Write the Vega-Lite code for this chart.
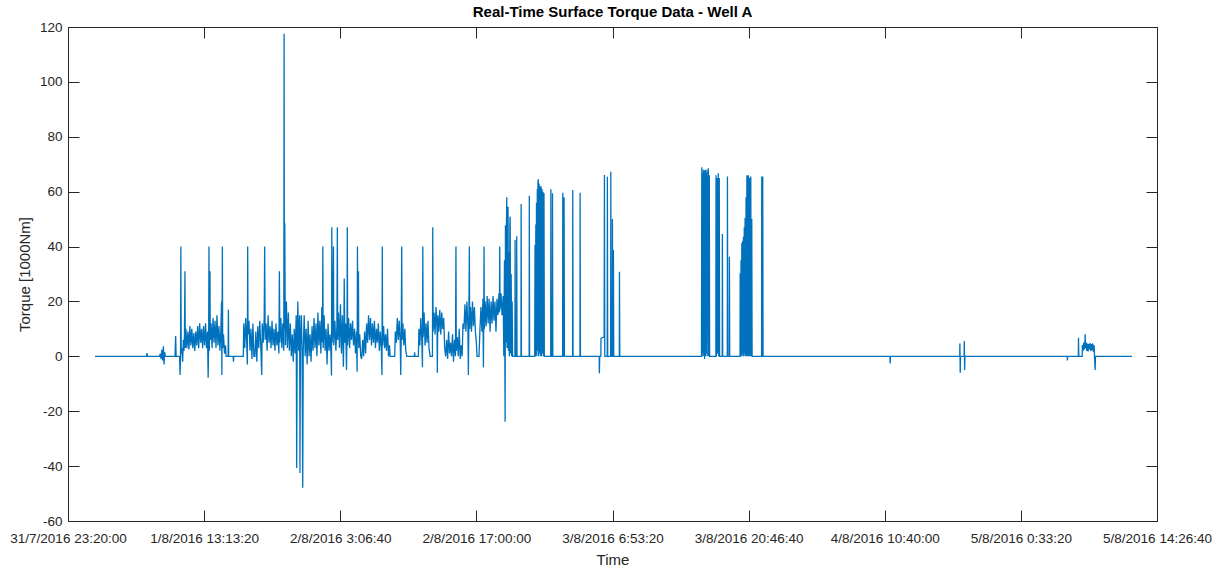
{
  "$schema": "https://vega.github.io/schema/vega-lite/v6.json",
  "width": 1089,
  "height": 494,
  "autosize": "none",
  "padding": {"left": 68, "top": 27, "right": 68, "bottom": 49},
  "background": "white",
  "config": {
    "font": "Liberation Sans",
    "view": {"stroke": "#262626", "strokeWidth": 1},
    "axis": {"grid": false, "domain": false, "tickColor": "#262626", "tickWidth": 1, "labelColor": "#262626", "labelFontSize": 13.5, "titleColor": "#262626", "titleFontSize": 15, "titleFontWeight": "normal"}
  },
  "title": {"text": "Real-Time Surface Torque Data - Well A", "fontSize": 15, "fontWeight": "bold", "color": "#000000", "anchor": "middle", "offset": 0},
  "data": {"values": [
    {"t":"2016-08-01T02:05Z","v":0},{"t":"2016-08-01T07:20Z","v":0},{"t":"2016-08-01T07:24Z","v":1.2},{"t":"2016-08-01T07:27Z","v":0},
    {"t":"2016-08-01T08:40Z","v":0},{"t":"2016-08-01T08:45Z","v":1},{"t":"2016-08-01T08:50Z","v":-1},{"t":"2016-08-01T08:55Z","v":2.5},
    {"t":"2016-08-01T09:00Z","v":-1.5},{"t":"2016-08-01T09:04Z","v":3.7},{"t":"2016-08-01T09:08Z","v":-3},{"t":"2016-08-01T09:12Z","v":1.5},
    {"t":"2016-08-01T09:16Z","v":0},{"t":"2016-08-01T10:15Z","v":0},{"t":"2016-08-01T10:19Z","v":7.4},{"t":"2016-08-01T10:22Z","v":0},
    {"t":"2016-08-01T10:43Z","v":0},{"t":"2016-08-01T10:46Z","v":-6.8},{"t":"2016-08-01T10:49Z","v":0},{"t":"2016-08-01T10:51Z","v":40},
    {"t":"2016-08-01T10:53Z","v":1},{"t":"2016-08-01T10:58Z","v":3},{"t":"2016-08-01T11:02Z","v":-2},{"t":"2016-08-01T11:06Z","v":6},
    {"t":"2016-08-01T11:10Z","v":2},{"t":"2016-08-01T11:13Z","v":8},{"t":"2016-08-01T11:16Z","v":31},{"t":"2016-08-01T11:18Z","v":3},
    {"t":"2016-08-01T11:22Z","v":10},{"t":"2016-08-01T11:28Z","v":3},{"t":"2016-08-01T11:34Z","v":9},{"t":"2016-08-01T11:40Z","v":2.5},
    {"t":"2016-08-01T11:46Z","v":11},{"t":"2016-08-01T11:52Z","v":4},{"t":"2016-08-01T11:58Z","v":10},{"t":"2016-08-01T12:04Z","v":3},
    {"t":"2016-08-01T12:10Z","v":8.5},{"t":"2016-08-01T12:16Z","v":2},{"t":"2016-08-01T12:22Z","v":9},{"t":"2016-08-01T12:28Z","v":4},
    {"t":"2016-08-01T12:34Z","v":11},{"t":"2016-08-01T12:40Z","v":3},{"t":"2016-08-01T12:46Z","v":12},{"t":"2016-08-01T12:52Z","v":5},
    {"t":"2016-08-01T12:58Z","v":10},{"t":"2016-08-01T13:04Z","v":3},{"t":"2016-08-01T13:10Z","v":11},{"t":"2016-08-01T13:16Z","v":4},
    {"t":"2016-08-01T13:22Z","v":12},{"t":"2016-08-01T13:28Z","v":3},{"t":"2016-08-01T13:34Z","v":9},{"t":"2016-08-01T13:38Z","v":-7.8},
    {"t":"2016-08-01T13:41Z","v":5},{"t":"2016-08-01T13:43Z","v":40},{"t":"2016-08-01T13:45Z","v":2},{"t":"2016-08-01T13:49Z","v":31},
    {"t":"2016-08-01T13:51Z","v":6},{"t":"2016-08-01T13:56Z","v":12},{"t":"2016-08-01T14:02Z","v":3},{"t":"2016-08-01T14:08Z","v":14},
    {"t":"2016-08-01T14:14Z","v":5},{"t":"2016-08-01T14:20Z","v":13},{"t":"2016-08-01T14:26Z","v":3},{"t":"2016-08-01T14:32Z","v":15},
    {"t":"2016-08-01T14:38Z","v":4},{"t":"2016-08-01T14:44Z","v":11},{"t":"2016-08-01T14:50Z","v":2},{"t":"2016-08-01T14:56Z","v":10},
    {"t":"2016-08-01T15:00Z","v":20},{"t":"2016-08-01T15:02Z","v":-6.8},{"t":"2016-08-01T15:05Z","v":40},{"t":"2016-08-01T15:07Z","v":3},
    {"t":"2016-08-01T15:12Z","v":8},{"t":"2016-08-01T15:18Z","v":1},{"t":"2016-08-01T15:24Z","v":4},{"t":"2016-08-01T15:28Z","v":0},
    {"t":"2016-08-01T15:40Z","v":0},{"t":"2016-08-01T15:42Z","v":17},{"t":"2016-08-01T15:44Z","v":0},{"t":"2016-08-01T16:11Z","v":0},
    {"t":"2016-08-01T16:13Z","v":-2},{"t":"2016-08-01T16:15Z","v":0},{"t":"2016-08-01T17:13Z","v":0},{"t":"2016-08-01T17:16Z","v":12},
    {"t":"2016-08-01T17:22Z","v":3},{"t":"2016-08-01T17:28Z","v":14},{"t":"2016-08-01T17:34Z","v":5},{"t":"2016-08-01T17:38Z","v":-3},
    {"t":"2016-08-01T17:40Z","v":40},{"t":"2016-08-01T17:42Z","v":8},{"t":"2016-08-01T17:48Z","v":13},{"t":"2016-08-01T17:54Z","v":2},
    {"t":"2016-08-01T18:00Z","v":10},{"t":"2016-08-01T18:06Z","v":-1},{"t":"2016-08-01T18:12Z","v":12},{"t":"2016-08-01T18:18Z","v":0},
    {"t":"2016-08-01T18:24Z","v":0},{"t":"2016-08-01T18:30Z","v":9},{"t":"2016-08-01T18:36Z","v":-2},{"t":"2016-08-01T18:42Z","v":11},
    {"t":"2016-08-01T18:48Z","v":3},{"t":"2016-08-01T18:54Z","v":13},{"t":"2016-08-01T19:00Z","v":4},{"t":"2016-08-01T19:06Z","v":-6.8},
    {"t":"2016-08-01T19:09Z","v":12},{"t":"2016-08-01T19:15Z","v":5},{"t":"2016-08-01T19:21Z","v":14},{"t":"2016-08-01T19:24Z","v":40},
    {"t":"2016-08-01T19:27Z","v":6},{"t":"2016-08-01T19:33Z","v":12},{"t":"2016-08-01T19:39Z","v":2},{"t":"2016-08-01T19:45Z","v":15},
    {"t":"2016-08-01T19:51Z","v":5},{"t":"2016-08-01T19:57Z","v":11},{"t":"2016-08-01T20:03Z","v":3},{"t":"2016-08-01T20:09Z","v":13},
    {"t":"2016-08-01T20:15Z","v":4},{"t":"2016-08-01T20:21Z","v":10},{"t":"2016-08-01T20:27Z","v":2},{"t":"2016-08-01T20:33Z","v":12},
    {"t":"2016-08-01T20:39Z","v":4},{"t":"2016-08-01T20:45Z","v":9},{"t":"2016-08-01T20:51Z","v":1},{"t":"2016-08-01T20:54Z","v":31},
    {"t":"2016-08-01T20:57Z","v":5},{"t":"2016-08-01T21:03Z","v":14},{"t":"2016-08-01T21:09Z","v":3},{"t":"2016-08-01T21:15Z","v":12},
    {"t":"2016-08-01T21:21Z","v":2},{"t":"2016-08-01T21:23Z","v":117.5},{"t":"2016-08-01T21:25Z","v":10},{"t":"2016-08-01T21:27Z","v":48.5},
    {"t":"2016-08-01T21:29Z","v":23.5},{"t":"2016-08-01T21:31Z","v":4},{"t":"2016-08-01T21:37Z","v":20},{"t":"2016-08-01T21:43Z","v":3},
    {"t":"2016-08-01T21:49Z","v":16},{"t":"2016-08-01T21:55Z","v":2},{"t":"2016-08-01T22:01Z","v":12},{"t":"2016-08-01T22:07Z","v":0},
    {"t":"2016-08-01T22:13Z","v":8},{"t":"2016-08-01T22:19Z","v":-2},{"t":"2016-08-01T22:25Z","v":10},{"t":"2016-08-01T22:31Z","v":1},
    {"t":"2016-08-01T22:37Z","v":15},{"t":"2016-08-01T22:40Z","v":-40.7},{"t":"2016-08-01T22:43Z","v":3},{"t":"2016-08-01T22:47Z","v":20},
    {"t":"2016-08-01T22:52Z","v":2},{"t":"2016-08-01T22:58Z","v":15},{"t":"2016-08-01T23:00Z","v":-42.5},{"t":"2016-08-01T23:03Z","v":4},
    {"t":"2016-08-01T23:09Z","v":15},{"t":"2016-08-01T23:13Z","v":0},{"t":"2016-08-01T23:17Z","v":-47.9},{"t":"2016-08-01T23:20Z","v":2},
    {"t":"2016-08-01T23:26Z","v":15},{"t":"2016-08-01T23:32Z","v":0},{"t":"2016-08-01T23:38Z","v":10},{"t":"2016-08-01T23:44Z","v":-3},
    {"t":"2016-08-01T23:50Z","v":13},{"t":"2016-08-01T23:56Z","v":0},
    {"t":"2016-08-02T00:02Z","v":8},{"t":"2016-08-02T00:08Z","v":-2},{"t":"2016-08-02T00:14Z","v":11},{"t":"2016-08-02T00:20Z","v":2},
    {"t":"2016-08-02T00:26Z","v":14},{"t":"2016-08-02T00:32Z","v":3},{"t":"2016-08-02T00:38Z","v":12},{"t":"2016-08-02T00:44Z","v":0},
    {"t":"2016-08-02T00:50Z","v":16},{"t":"2016-08-02T00:56Z","v":4},{"t":"2016-08-02T01:02Z","v":13},{"t":"2016-08-02T01:08Z","v":1},
    {"t":"2016-08-02T01:14Z","v":18},{"t":"2016-08-02T01:18Z","v":5},{"t":"2016-08-02T01:20Z","v":40},{"t":"2016-08-02T01:22Z","v":3},
    {"t":"2016-08-02T01:28Z","v":15},{"t":"2016-08-02T01:34Z","v":2},{"t":"2016-08-02T01:40Z","v":10},{"t":"2016-08-02T01:46Z","v":-3},
    {"t":"2016-08-02T01:52Z","v":12},{"t":"2016-08-02T01:58Z","v":2},{"t":"2016-08-02T02:04Z","v":8},{"t":"2016-08-02T02:10Z","v":1},
    {"t":"2016-08-02T02:13Z","v":-7},{"t":"2016-08-02T02:15Z","v":47},{"t":"2016-08-02T02:17Z","v":5},{"t":"2016-08-02T02:22Z","v":14},
    {"t":"2016-08-02T02:25Z","v":40},{"t":"2016-08-02T02:27Z","v":4},{"t":"2016-08-02T02:34Z","v":13},{"t":"2016-08-02T02:40Z","v":2},
    {"t":"2016-08-02T02:46Z","v":11},{"t":"2016-08-02T02:49Z","v":47},{"t":"2016-08-02T02:51Z","v":6},{"t":"2016-08-02T02:56Z","v":16},
    {"t":"2016-08-02T03:02Z","v":3},{"t":"2016-08-02T03:08Z","v":19},{"t":"2016-08-02T03:14Z","v":1},{"t":"2016-08-02T03:20Z","v":15},
    {"t":"2016-08-02T03:26Z","v":-3.8},{"t":"2016-08-02T03:29Z","v":10},{"t":"2016-08-02T03:31Z","v":28.4},{"t":"2016-08-02T03:35Z","v":5},
    {"t":"2016-08-02T03:40Z","v":12},{"t":"2016-08-02T03:45Z","v":-5},{"t":"2016-08-02T03:48Z","v":8},{"t":"2016-08-02T03:50Z","v":47},
    {"t":"2016-08-02T03:52Z","v":4},{"t":"2016-08-02T03:58Z","v":14},{"t":"2016-08-02T04:04Z","v":3},{"t":"2016-08-02T04:10Z","v":12},
    {"t":"2016-08-02T04:16Z","v":6},{"t":"2016-08-02T04:22Z","v":13},{"t":"2016-08-02T04:28Z","v":4},{"t":"2016-08-02T04:34Z","v":10},
    {"t":"2016-08-02T04:40Z","v":1},{"t":"2016-08-02T04:46Z","v":9},{"t":"2016-08-02T04:50Z","v":-5.6},{"t":"2016-08-02T04:52Z","v":40},
    {"t":"2016-08-02T04:54Z","v":5},{"t":"2016-08-02T04:58Z","v":31},{"t":"2016-08-02T05:00Z","v":3},{"t":"2016-08-02T05:06Z","v":8},
    {"t":"2016-08-02T05:12Z","v":0},{"t":"2016-08-02T05:18Z","v":-1},{"t":"2016-08-02T05:24Z","v":6},{"t":"2016-08-02T05:30Z","v":0},
    {"t":"2016-08-02T05:36Z","v":9},{"t":"2016-08-02T05:42Z","v":1},{"t":"2016-08-02T05:48Z","v":12},{"t":"2016-08-02T05:54Z","v":5},
    {"t":"2016-08-02T06:00Z","v":15},{"t":"2016-08-02T06:06Z","v":6},{"t":"2016-08-02T06:12Z","v":14},{"t":"2016-08-02T06:18Z","v":4},
    {"t":"2016-08-02T06:24Z","v":12},{"t":"2016-08-02T06:30Z","v":5},{"t":"2016-08-02T06:36Z","v":13},{"t":"2016-08-02T06:42Z","v":3},
    {"t":"2016-08-02T06:48Z","v":10},{"t":"2016-08-02T06:54Z","v":5},{"t":"2016-08-02T07:00Z","v":12},{"t":"2016-08-02T07:06Z","v":2},
    {"t":"2016-08-02T07:12Z","v":9},{"t":"2016-08-02T07:18Z","v":3},{"t":"2016-08-02T07:22Z","v":-6.8},{"t":"2016-08-02T07:24Z","v":40},
    {"t":"2016-08-02T07:26Z","v":4},{"t":"2016-08-02T07:32Z","v":11},{"t":"2016-08-02T07:38Z","v":3},{"t":"2016-08-02T07:44Z","v":8},
    {"t":"2016-08-02T07:50Z","v":2},{"t":"2016-08-02T07:56Z","v":10},{"t":"2016-08-02T08:02Z","v":0},{"t":"2016-08-02T08:08Z","v":4},
    {"t":"2016-08-02T08:12Z","v":0},{"t":"2016-08-02T08:40Z","v":0},{"t":"2016-08-02T08:44Z","v":9},{"t":"2016-08-02T08:50Z","v":5},
    {"t":"2016-08-02T08:56Z","v":14},{"t":"2016-08-02T09:02Z","v":6},{"t":"2016-08-02T09:08Z","v":13},{"t":"2016-08-02T09:14Z","v":5},
    {"t":"2016-08-02T09:17Z","v":-6.8},{"t":"2016-08-02T09:20Z","v":8},{"t":"2016-08-02T09:23Z","v":40},{"t":"2016-08-02T09:25Z","v":6},
    {"t":"2016-08-02T09:30Z","v":12},{"t":"2016-08-02T09:36Z","v":4},{"t":"2016-08-02T09:42Z","v":10},{"t":"2016-08-02T09:48Z","v":2},
    {"t":"2016-08-02T09:54Z","v":0},{"t":"2016-08-02T10:40Z","v":0},{"t":"2016-08-02T10:42Z","v":1.5},{"t":"2016-08-02T10:44Z","v":0},
    {"t":"2016-08-02T11:05Z","v":0},{"t":"2016-08-02T11:08Z","v":10},{"t":"2016-08-02T11:14Z","v":4},{"t":"2016-08-02T11:20Z","v":14},
    {"t":"2016-08-02T11:26Z","v":6},{"t":"2016-08-02T11:30Z","v":-4},{"t":"2016-08-02T11:32Z","v":40},{"t":"2016-08-02T11:34Z","v":7},
    {"t":"2016-08-02T11:40Z","v":16},{"t":"2016-08-02T11:46Z","v":4},{"t":"2016-08-02T11:52Z","v":12},{"t":"2016-08-02T11:58Z","v":5},
    {"t":"2016-08-02T12:04Z","v":13},{"t":"2016-08-02T12:10Z","v":3},{"t":"2016-08-02T12:17Z","v":0},{"t":"2016-08-02T12:31Z","v":0},
    {"t":"2016-08-02T12:33Z","v":47},{"t":"2016-08-02T12:35Z","v":9},{"t":"2016-08-02T12:41Z","v":16},{"t":"2016-08-02T12:47Z","v":8},
    {"t":"2016-08-02T12:53Z","v":18},{"t":"2016-08-02T12:59Z","v":10},{"t":"2016-08-02T13:01Z","v":-6},{"t":"2016-08-02T13:04Z","v":15},
    {"t":"2016-08-02T13:10Z","v":9},{"t":"2016-08-02T13:16Z","v":17},{"t":"2016-08-02T13:22Z","v":8},{"t":"2016-08-02T13:28Z","v":16},
    {"t":"2016-08-02T13:34Z","v":10},{"t":"2016-08-02T13:40Z","v":14},{"t":"2016-08-02T13:46Z","v":3},{"t":"2016-08-02T13:52Z","v":0},
    {"t":"2016-08-02T13:58Z","v":6},{"t":"2016-08-02T14:04Z","v":-1},{"t":"2016-08-02T14:10Z","v":9},{"t":"2016-08-02T14:16Z","v":1},
    {"t":"2016-08-02T14:22Z","v":5},{"t":"2016-08-02T14:28Z","v":0},{"t":"2016-08-02T14:34Z","v":8},{"t":"2016-08-02T14:40Z","v":-2},
    {"t":"2016-08-02T14:46Z","v":6},{"t":"2016-08-02T14:52Z","v":0},{"t":"2016-08-02T14:55Z","v":40},{"t":"2016-08-02T14:57Z","v":2},
    {"t":"2016-08-02T15:03Z","v":7},{"t":"2016-08-02T15:09Z","v":0},{"t":"2016-08-02T15:15Z","v":10},{"t":"2016-08-02T15:21Z","v":-1},
    {"t":"2016-08-02T15:27Z","v":4},{"t":"2016-08-02T15:33Z","v":0},{"t":"2016-08-02T15:38Z","v":12},{"t":"2016-08-02T15:44Z","v":10},
    {"t":"2016-08-02T15:50Z","v":19},{"t":"2016-08-02T15:56Z","v":9},{"t":"2016-08-02T16:02Z","v":20},{"t":"2016-08-02T16:08Z","v":11},
    {"t":"2016-08-02T16:11Z","v":-6.8},{"t":"2016-08-02T16:14Z","v":13},{"t":"2016-08-02T16:17Z","v":40},{"t":"2016-08-02T16:19Z","v":10},
    {"t":"2016-08-02T16:24Z","v":18},{"t":"2016-08-02T16:30Z","v":9},{"t":"2016-08-02T16:36Z","v":20},{"t":"2016-08-02T16:42Z","v":11},
    {"t":"2016-08-02T16:48Z","v":18},{"t":"2016-08-02T16:54Z","v":9},{"t":"2016-08-02T17:00Z","v":5},{"t":"2016-08-02T17:04Z","v":0},
    {"t":"2016-08-02T17:16Z","v":0},{"t":"2016-08-02T17:22Z","v":10},{"t":"2016-08-02T17:28Z","v":18},{"t":"2016-08-02T17:34Z","v":9},
    {"t":"2016-08-02T17:40Z","v":21},{"t":"2016-08-02T17:43Z","v":-4},{"t":"2016-08-02T17:45Z","v":12},{"t":"2016-08-02T17:47Z","v":40},
    {"t":"2016-08-02T17:49Z","v":10},{"t":"2016-08-02T17:54Z","v":20},{"t":"2016-08-02T18:00Z","v":11},{"t":"2016-08-02T18:06Z","v":22},
    {"t":"2016-08-02T18:12Z","v":12},{"t":"2016-08-02T18:18Z","v":21},{"t":"2016-08-02T18:24Z","v":9},{"t":"2016-08-02T18:30Z","v":20},
    {"t":"2016-08-02T18:36Z","v":12},{"t":"2016-08-02T18:42Z","v":22},{"t":"2016-08-02T18:48Z","v":13},{"t":"2016-08-02T18:54Z","v":20},
    {"t":"2016-08-02T19:00Z","v":9},{"t":"2016-08-02T19:06Z","v":21},{"t":"2016-08-02T19:12Z","v":15},{"t":"2016-08-02T19:18Z","v":23},
    {"t":"2016-08-02T19:21Z","v":16},{"t":"2016-08-02T19:23Z","v":40},{"t":"2016-08-02T19:25Z","v":17},{"t":"2016-08-02T19:31Z","v":23},
    {"t":"2016-08-02T19:37Z","v":15},{"t":"2016-08-02T19:44Z","v":22},{"t":"2016-08-02T19:48Z","v":0},{"t":"2016-08-02T19:52Z","v":35},
    {"t":"2016-08-02T19:54Z","v":2},{"t":"2016-08-02T19:56Z","v":-23.8},{"t":"2016-08-02T19:58Z","v":47.8},{"t":"2016-08-02T20:00Z","v":5},
    {"t":"2016-08-02T20:03Z","v":40},{"t":"2016-08-02T20:06Z","v":58},{"t":"2016-08-02T20:08Z","v":3},{"t":"2016-08-02T20:11Z","v":45},
    {"t":"2016-08-02T20:14Z","v":54.5},{"t":"2016-08-02T20:16Z","v":2},{"t":"2016-08-02T20:19Z","v":38},{"t":"2016-08-02T20:22Z","v":0},
    {"t":"2016-08-02T20:25Z","v":48},{"t":"2016-08-02T20:27Z","v":50.9},{"t":"2016-08-02T20:29Z","v":1},{"t":"2016-08-02T20:33Z","v":30},
    {"t":"2016-08-02T20:36Z","v":0},{"t":"2016-08-02T20:39Z","v":20},{"t":"2016-08-02T20:42Z","v":0},{"t":"2016-08-02T20:56Z","v":0},
    {"t":"2016-08-02T20:57Z","v":42.4},{"t":"2016-08-02T20:59Z","v":0},{"t":"2016-08-02T21:06Z","v":0},{"t":"2016-08-02T21:07Z","v":43.8},
    {"t":"2016-08-02T21:09Z","v":0},{"t":"2016-08-02T21:33Z","v":0},{"t":"2016-08-02T21:34Z","v":55.5},{"t":"2016-08-02T21:36Z","v":0},
    {"t":"2016-08-02T22:23Z","v":0},{"t":"2016-08-02T22:24Z","v":58.5},{"t":"2016-08-02T22:26Z","v":0},{"t":"2016-08-02T22:57Z","v":0},
    {"t":"2016-08-02T22:59Z","v":40.6},{"t":"2016-08-02T23:01Z","v":0},{"t":"2016-08-02T23:04Z","v":48},{"t":"2016-08-02T23:06Z","v":1},
    {"t":"2016-08-02T23:08Z","v":56},{"t":"2016-08-02T23:10Z","v":0},{"t":"2016-08-02T23:13Z","v":61},{"t":"2016-08-02T23:15Z","v":2},
    {"t":"2016-08-02T23:17Z","v":63},{"t":"2016-08-02T23:19Z","v":64.5},{"t":"2016-08-02T23:21Z","v":0},{"t":"2016-08-02T23:24Z","v":63},
    {"t":"2016-08-02T23:27Z","v":1},{"t":"2016-08-02T23:30Z","v":62},{"t":"2016-08-02T23:33Z","v":0},{"t":"2016-08-02T23:36Z","v":62},
    {"t":"2016-08-02T23:39Z","v":0},{"t":"2016-08-02T23:42Z","v":61},{"t":"2016-08-02T23:45Z","v":1},{"t":"2016-08-02T23:48Z","v":60},
    {"t":"2016-08-02T23:51Z","v":0},{"t":"2016-08-02T23:54Z","v":59.4},{"t":"2016-08-02T23:56Z","v":0},
    {"t":"2016-08-03T00:35Z","v":0},{"t":"2016-08-03T00:36Z","v":60.9},{"t":"2016-08-03T00:38Z","v":0},{"t":"2016-08-03T00:45Z","v":0},
    {"t":"2016-08-03T00:46Z","v":59.4},{"t":"2016-08-03T00:48Z","v":0},{"t":"2016-08-03T01:48Z","v":0},{"t":"2016-08-03T01:49Z","v":59.6},
    {"t":"2016-08-03T01:51Z","v":0},{"t":"2016-08-03T01:56Z","v":0},{"t":"2016-08-03T01:57Z","v":58},{"t":"2016-08-03T01:59Z","v":0},
    {"t":"2016-08-03T02:49Z","v":0},{"t":"2016-08-03T02:50Z","v":60.6},{"t":"2016-08-03T02:52Z","v":0},{"t":"2016-08-03T03:34Z","v":0},
    {"t":"2016-08-03T03:35Z","v":59.6},{"t":"2016-08-03T03:37Z","v":0},{"t":"2016-08-03T05:32Z","v":0},{"t":"2016-08-03T05:33Z","v":-6.2},
    {"t":"2016-08-03T05:35Z","v":0},{"t":"2016-08-03T05:42Z","v":0},{"t":"2016-08-03T05:43Z","v":6.6},{"t":"2016-08-03T06:02Z","v":7},
    {"t":"2016-08-03T06:04Z","v":66.1},{"t":"2016-08-03T06:06Z","v":0},{"t":"2016-08-03T06:21Z","v":0},{"t":"2016-08-03T06:22Z","v":65.4},
    {"t":"2016-08-03T06:24Z","v":0},{"t":"2016-08-03T06:42Z","v":0},{"t":"2016-08-03T06:43Z","v":67.3},{"t":"2016-08-03T06:45Z","v":0},
    {"t":"2016-08-03T06:52Z","v":0},{"t":"2016-08-03T06:53Z","v":50},{"t":"2016-08-03T06:55Z","v":0},{"t":"2016-08-03T06:58Z","v":0},
    {"t":"2016-08-03T06:59Z","v":38.7},{"t":"2016-08-03T07:01Z","v":0},{"t":"2016-08-03T07:35Z","v":0},{"t":"2016-08-03T07:36Z","v":30.8},
    {"t":"2016-08-03T07:38Z","v":0},{"t":"2016-08-03T15:58Z","v":0},{"t":"2016-08-03T16:00Z","v":68.9},{"t":"2016-08-03T16:02Z","v":0},
    {"t":"2016-08-03T16:05Z","v":67},{"t":"2016-08-03T16:07Z","v":1},{"t":"2016-08-03T16:10Z","v":68},{"t":"2016-08-03T16:12Z","v":0},
    {"t":"2016-08-03T16:15Z","v":67.5},{"t":"2016-08-03T16:17Z","v":-1},{"t":"2016-08-03T16:20Z","v":68},{"t":"2016-08-03T16:22Z","v":0},
    {"t":"2016-08-03T16:26Z","v":68},{"t":"2016-08-03T16:28Z","v":1},{"t":"2016-08-03T16:31Z","v":67},{"t":"2016-08-03T16:33Z","v":0},
    {"t":"2016-08-03T16:37Z","v":67.5},{"t":"2016-08-03T16:40Z","v":68.5},{"t":"2016-08-03T16:42Z","v":0},{"t":"2016-08-03T16:46Z","v":66},
    {"t":"2016-08-03T16:48Z","v":0},{"t":"2016-08-03T17:26Z","v":0},{"t":"2016-08-03T17:27Z","v":66},{"t":"2016-08-03T17:29Z","v":0},
    {"t":"2016-08-03T17:34Z","v":65},{"t":"2016-08-03T17:36Z","v":1},{"t":"2016-08-03T17:41Z","v":66.7},{"t":"2016-08-03T17:43Z","v":0},
    {"t":"2016-08-03T17:47Z","v":65},{"t":"2016-08-03T17:49Z","v":0},{"t":"2016-08-03T18:05Z","v":0},{"t":"2016-08-03T18:06Z","v":44.6},
    {"t":"2016-08-03T18:08Z","v":0},{"t":"2016-08-03T18:36Z","v":0},{"t":"2016-08-03T18:37Z","v":65.5},{"t":"2016-08-03T18:39Z","v":0},
    {"t":"2016-08-03T18:48Z","v":0},{"t":"2016-08-03T18:49Z","v":36.3},{"t":"2016-08-03T18:51Z","v":0},{"t":"2016-08-03T19:54Z","v":0},
    {"t":"2016-08-03T19:55Z","v":30.3},{"t":"2016-08-03T19:57Z","v":0},{"t":"2016-08-03T20:00Z","v":35},{"t":"2016-08-03T20:02Z","v":0},
    {"t":"2016-08-03T20:05Z","v":41.3},{"t":"2016-08-03T20:07Z","v":1},{"t":"2016-08-03T20:10Z","v":42},{"t":"2016-08-03T20:12Z","v":0},
    {"t":"2016-08-03T20:15Z","v":43.6},{"t":"2016-08-03T20:17Z","v":0},{"t":"2016-08-03T20:20Z","v":47},{"t":"2016-08-03T20:22Z","v":1},
    {"t":"2016-08-03T20:25Z","v":50.4},{"t":"2016-08-03T20:27Z","v":0},{"t":"2016-08-03T20:31Z","v":58},{"t":"2016-08-03T20:33Z","v":0},
    {"t":"2016-08-03T20:36Z","v":66},{"t":"2016-08-03T20:38Z","v":0},{"t":"2016-08-03T20:41Z","v":65.5},{"t":"2016-08-03T20:43Z","v":0},
    {"t":"2016-08-03T20:45Z","v":66},{"t":"2016-08-03T20:47Z","v":0},{"t":"2016-08-03T20:52Z","v":65},{"t":"2016-08-03T20:54Z","v":0},
    {"t":"2016-08-03T21:00Z","v":65.5},{"t":"2016-08-03T21:02Z","v":0},{"t":"2016-08-03T21:06Z","v":50},{"t":"2016-08-03T21:08Z","v":0},
    {"t":"2016-08-03T22:06Z","v":0},{"t":"2016-08-03T22:07Z","v":65.5},{"t":"2016-08-03T22:09Z","v":0},{"t":"2016-08-03T22:12Z","v":0},
    {"t":"2016-08-03T22:13Z","v":65.5},{"t":"2016-08-03T22:15Z","v":0},
    {"t":"2016-08-04T11:12Z","v":0},{"t":"2016-08-04T11:13Z","v":-2.6},{"t":"2016-08-04T11:15Z","v":0},{"t":"2016-08-04T18:19Z","v":0},
    {"t":"2016-08-04T18:20Z","v":4.7},{"t":"2016-08-04T18:22Z","v":-6},{"t":"2016-08-04T18:24Z","v":0},{"t":"2016-08-04T18:46Z","v":0},
    {"t":"2016-08-04T18:47Z","v":5.6},{"t":"2016-08-04T18:49Z","v":-5},{"t":"2016-08-04T18:51Z","v":0},
    {"t":"2016-08-05T05:17Z","v":0},{"t":"2016-08-05T05:18Z","v":-1.5},{"t":"2016-08-05T05:20Z","v":0},{"t":"2016-08-05T06:25Z","v":0},
    {"t":"2016-08-05T06:26Z","v":6.8},{"t":"2016-08-05T06:28Z","v":0},{"t":"2016-08-05T06:49Z","v":0},{"t":"2016-08-05T06:50Z","v":4.1},
    {"t":"2016-08-05T06:54Z","v":2},{"t":"2016-08-05T06:58Z","v":5},{"t":"2016-08-05T07:02Z","v":2.5},{"t":"2016-08-05T07:05Z","v":4.5},
    {"t":"2016-08-05T07:07Z","v":8},{"t":"2016-08-05T07:09Z","v":3},{"t":"2016-08-05T07:13Z","v":5},{"t":"2016-08-05T07:17Z","v":2},
    {"t":"2016-08-05T07:21Z","v":4.7},{"t":"2016-08-05T07:25Z","v":1.8},{"t":"2016-08-05T07:29Z","v":4.5},{"t":"2016-08-05T07:33Z","v":2.5},
    {"t":"2016-08-05T07:37Z","v":4.8},{"t":"2016-08-05T07:41Z","v":2},{"t":"2016-08-05T07:45Z","v":4.5},{"t":"2016-08-05T07:49Z","v":2.2},
    {"t":"2016-08-05T07:53Z","v":4.7},{"t":"2016-08-05T07:57Z","v":1.7},{"t":"2016-08-05T08:02Z","v":4},{"t":"2016-08-05T08:04Z","v":0},
    {"t":"2016-08-05T08:08Z","v":-5},{"t":"2016-08-05T08:10Z","v":0},{"t":"2016-08-05T11:53Z","v":0}
  ]},
  "layer": [
    {
      "mark": {"type": "line", "color": "#0072BD", "strokeWidth": 1.3},
      "encoding": {
        "x": {
          "field": "t", "type": "temporal",
          "scale": {"type": "utc", "domain": [
            {"year": 2016, "month": 7, "date": 31, "hours": 23, "minutes": 20, "utc": true},
            {"year": 2016, "month": 8, "date": 5, "hours": 14, "minutes": 26, "seconds": 40, "utc": true}
          ]},
          "axis": {
            "orient": "bottom",
            "title": "Time",
            "titleY": 43, "titleBaseline": "alphabetic",
            "tickSize": -11, "labelPadding": 21,
            "labelExpr": "utcFormat(datum.value, '%-d/%-m/%Y %-H:%M:%S')",
            "labelOverlap": false, "labelFlush": false,
            "values": [
              {"year": 2016, "month": 7, "date": 31, "hours": 23, "minutes": 20, "utc": true},
              {"year": 2016, "month": 8, "date": 1, "hours": 13, "minutes": 13, "seconds": 20, "utc": true},
              {"year": 2016, "month": 8, "date": 2, "hours": 3, "minutes": 6, "seconds": 40, "utc": true},
              {"year": 2016, "month": 8, "date": 2, "hours": 17, "minutes": 0, "utc": true},
              {"year": 2016, "month": 8, "date": 3, "hours": 6, "minutes": 53, "seconds": 20, "utc": true},
              {"year": 2016, "month": 8, "date": 3, "hours": 20, "minutes": 46, "seconds": 40, "utc": true},
              {"year": 2016, "month": 8, "date": 4, "hours": 10, "minutes": 40, "utc": true},
              {"year": 2016, "month": 8, "date": 5, "hours": 0, "minutes": 33, "seconds": 20, "utc": true},
              {"year": 2016, "month": 8, "date": 5, "hours": 14, "minutes": 26, "seconds": 40, "utc": true}
            ]
          }
        },
        "y": {
          "field": "v", "type": "quantitative",
          "scale": {"domain": [-60, 120], "nice": false, "zero": false},
          "axis": {
            "orient": "left",
            "title": "Torque [1000Nm]",
            "titleX": -44, "titleY": 247, "titleAngle": 270, "titleBaseline": "middle", "titleAlign": "center",
            "tickSize": -11, "labelPadding": 17,
            "values": [-60, -40, -20, 0, 20, 40, 60, 80, 100, 120],
            "labelExpr": "toString(datum.value)",
            "labelFlush": false
          }
        }
      }
    },
    {
      "mark": {"type": "line", "strokeOpacity": 0},
      "encoding": {
        "x": {
          "field": "t", "type": "temporal",
          "scale": {"type": "utc", "domain": [
            {"year": 2016, "month": 7, "date": 31, "hours": 23, "minutes": 20, "utc": true},
            {"year": 2016, "month": 8, "date": 5, "hours": 14, "minutes": 26, "seconds": 40, "utc": true}
          ]},
          "axis": {
            "orient": "top", "title": null, "labels": false, "tickSize": -11,
            "values": [
              {"year": 2016, "month": 7, "date": 31, "hours": 23, "minutes": 20, "utc": true},
              {"year": 2016, "month": 8, "date": 1, "hours": 13, "minutes": 13, "seconds": 20, "utc": true},
              {"year": 2016, "month": 8, "date": 2, "hours": 3, "minutes": 6, "seconds": 40, "utc": true},
              {"year": 2016, "month": 8, "date": 2, "hours": 17, "minutes": 0, "utc": true},
              {"year": 2016, "month": 8, "date": 3, "hours": 6, "minutes": 53, "seconds": 20, "utc": true},
              {"year": 2016, "month": 8, "date": 3, "hours": 20, "minutes": 46, "seconds": 40, "utc": true},
              {"year": 2016, "month": 8, "date": 4, "hours": 10, "minutes": 40, "utc": true},
              {"year": 2016, "month": 8, "date": 5, "hours": 0, "minutes": 33, "seconds": 20, "utc": true},
              {"year": 2016, "month": 8, "date": 5, "hours": 14, "minutes": 26, "seconds": 40, "utc": true}
            ]
          }
        },
        "y": {
          "field": "v", "type": "quantitative",
          "scale": {"domain": [-60, 120], "nice": false, "zero": false},
          "axis": {"orient": "right", "title": null, "labels": false, "tickSize": -11, "values": [-60, -40, -20, 0, 20, 40, 60, 80, 100, 120]}
        }
      }
    }
  ],
  "resolve": {"axis": {"x": "independent", "y": "independent"}}
}
